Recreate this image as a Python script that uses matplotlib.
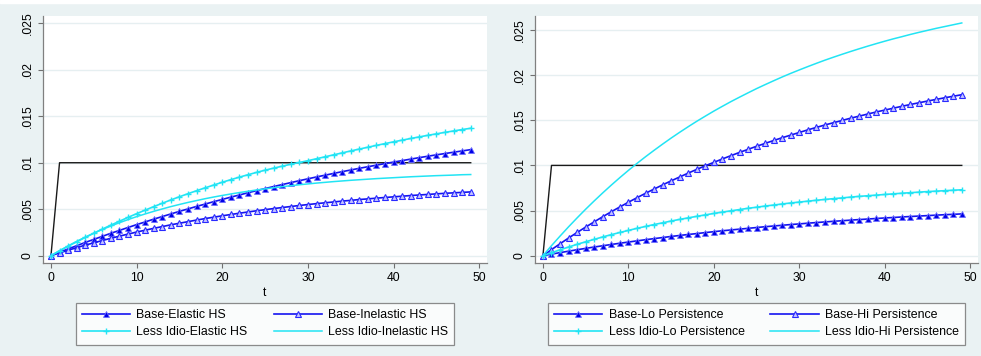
import matplotlib
matplotlib.use("Agg")
import matplotlib.pyplot as plt
from matplotlib.patches import Rectangle

plt.rcParams["font.family"] = ["Liberation Sans", "DejaVu Sans"]

# periods
t = list(range(50))

# policy step (black line, same in both panels)
policy = [0.0, 0.01, 0.01, 0.01, 0.01, 0.01, 0.01, 0.01, 0.01, 0.01,
          0.01, 0.01, 0.01, 0.01, 0.01, 0.01, 0.01, 0.01, 0.01, 0.01,
          0.01, 0.01, 0.01, 0.01, 0.01, 0.01, 0.01, 0.01, 0.01, 0.01,
          0.01, 0.01, 0.01, 0.01, 0.01, 0.01, 0.01, 0.01, 0.01, 0.01,
          0.01, 0.01, 0.01, 0.01, 0.01, 0.01, 0.01, 0.01, 0.01, 0.01]

# left panel: housing supply elasticity
base_elastic = [0.0, .00037, .00072, .00107, .00142, .00175, .00208, .00241, .00272, .00303,
                .00334, .00363, .00393, .00421, .00449, .00477, .00503, .00530, .00555, .00581,
                .00605, .00630, .00653, .00677, .00700, .00722, .00744, .00765, .00786, .00807,
                .00827, .00847, .00866, .00885, .00904, .00922, .00940, .00957, .00974, .00991,
                .01007, .01023, .01039, .01055, .01070, .01085, .01099, .01113, .01127, .01141]
base_inelastic = [0.0, .00030, .00058, .00086, .00113, .00138, .00163, .00187, .00210, .00232,
                  .00254, .00274, .00294, .00313, .00332, .00349, .00366, .00383, .00399, .00414,
                  .00429, .00443, .00457, .00470, .00483, .00495, .00507, .00518, .00529, .00540,
                  .00550, .00560, .00569, .00578, .00587, .00595, .00604, .00611, .00619, .00626,
                  .00633, .00640, .00647, .00653, .00659, .00665, .00671, .00676, .00681, .00686]
less_idio_elastic = [0.0, .00051, .00101, .00149, .00196, .00242, .00286, .00329, .00371, .00412,
                     .00452, .00490, .00528, .00564, .00600, .00634, .00667, .00699, .00730, .00760,
                     .00790, .00818, .00845, .00871, .00896, .00920, .00942, .00963, .00984, .01003,
                     .01022, .01043, .01064, .01085, .01106, .01127, .01147, .01167, .01187, .01206,
                     .01225, .01243, .01261, .01278, .01295, .01311, .01327, .01342, .01357, .01371]
less_idio_inelastic = [0.0, .00054, .00105, .00154, .00199, .00242, .00282, .00319, .00355, .00388,
                       .00420, .00449, .00477, .00503, .00528, .00551, .00573, .00593, .00613, .00631,
                       .00648, .00664, .00679, .00693, .00707, .00719, .00731, .00742, .00753, .00763,
                       .00772, .00781, .00789, .00797, .00804, .00811, .00817, .00823, .00829, .00834,
                       .00839, .00844, .00849, .00853, .00857, .00861, .00864, .00867, .00871, .00873]

# right panel: persistence
base_lo = [0.0, .00017, .00034, .00050, .00066, .00081, .00096, .00110, .00124, .00138,
           .00151, .00164, .00177, .00189, .00201, .00213, .00224, .00235, .00245, .00256,
           .00266, .00276, .00285, .00294, .00303, .00312, .00321, .00329, .00337, .00345,
           .00352, .00360, .00367, .00374, .00381, .00387, .00394, .00400, .00406, .00412,
           .00418, .00423, .00429, .00434, .00439, .00444, .00449, .00454, .00458, .00463]
base_hi = [0.0, .00067, .00132, .00196, .00257, .00317, .00375, .00432, .00487, .00540,
           .00592, .00642, .00691, .00738, .00784, .00829, .00872, .00915, .00956, .00996,
           .01034, .01072, .01108, .01144, .01178, .01212, .01244, .01276, .01307, .01336,
           .01365, .01394, .01421, .01448, .01473, .01498, .01523, .01546, .01569, .01592,
           .01613, .01634, .01655, .01675, .01694, .01713, .01731, .01749, .01766, .01783]
less_idio_lo = [0.0, .00033, .00065, .00096, .00126, .00154, .00181, .00208, .00233, .00257,
                .00280, .00303, .00324, .00345, .00364, .00384, .00402, .00419, .00436, .00452,
                .00468, .00483, .00497, .00511, .00525, .00537, .00550, .00561, .00573, .00584,
                .00594, .00604, .00614, .00623, .00632, .00640, .00649, .00657, .00664, .00671,
                .00678, .00685, .00692, .00698, .00704, .00710, .00715, .00720, .00725, .00730]
less_idio_hi = [0.0, .00111, .00217, .00320, .00419, .00515, .00607, .00696, .00782, .00865,
                .00945, .01022, .01096, .01167, .01236, .01303, .01367, .01429, .01489, .01546,
                .01602, .01655, .01707, .01756, .01804, .01851, .01895, .01938, .01980, .02020,
                .02058, .02095, .02131, .02166, .02199, .02231, .02262, .02292, .02321, .02349,
                .02376, .02402, .02426, .02451, .02474, .02496, .02518, .02538, .02558, .02578]

left_labels = ["Base-Elastic HS", "Base-Inelastic HS",
               "Less Idio-Elastic HS", "Less Idio-Inelastic HS"]
right_labels = ["Base-Lo Persistence", "Base-Hi Persistence",
                "Less Idio-Lo Persistence", "Less Idio-Hi Persistence"]

y_ticks = [0, .005, .01, .015, .02, .025]
y_ticklabels = ["0", ".005", ".01", ".015", ".02", ".025"]
x_ticks = [0, 10, 20, 30, 40, 50]

BG = "#eaf2f3"
BLUE = "#1414f0"
CYAN = "#22e4f4"
FS = 8.7


def draw_panel(ax, series, labels, ylim):
    ax.plot(t, policy, color="#1a1a1a", lw=1.0, zorder=2)
    h1, = ax.plot(t, series[0], color=BLUE, lw=1.2, marker="^", ms=4.8,
                  mfc="#0000e6", mec="#6f6fff", mew=0.6, zorder=3)
    h2, = ax.plot(t, series[1], color=BLUE, lw=1.2, marker="^", ms=4.8,
                  mfc="#c4c4ff", mec="#2a2aff", mew=0.8, zorder=3)
    h3, = ax.plot(t, series[2], color=CYAN, lw=1.2, marker="+", ms=5.0,
                  mew=1.0, zorder=4)
    h4, = ax.plot(t, series[3], color=CYAN, lw=1.1, zorder=4)

    ax.set_xlim(-0.93, 50.9)
    ax.set_ylim(*ylim)
    ax.set_xticks(x_ticks)
    ax.set_yticks(y_ticks)
    ax.set_yticklabels(y_ticklabels, rotation=90, va="center")
    ax.tick_params(labelsize=FS, length=3.6, width=0.8, color="#707070", pad=3)
    ax.grid(axis="y", color="#e6eff1", lw=1.0, zorder=0)
    ax.set_axisbelow(True)
    for s in ("top", "right"):
        ax.spines[s].set_visible(False)
    for s in ("left", "bottom"):
        ax.spines[s].set_color("#808080")
        ax.spines[s].set_linewidth(0.9)
    ax.set_xlabel("t", fontsize=FS, labelpad=2)

    # matplotlib fills legend columns first
    leg = ax.legend([h1, h3, h2, h4], [labels[0], labels[2], labels[1], labels[3]],
                    ncol=2, loc="upper center", bbox_to_anchor=(0.5, -0.162),
                    fontsize=8.9, frameon=True, fancybox=False, borderaxespad=0,
                    handlelength=3.9, handletextpad=0.5, columnspacing=2.1,
                    labelspacing=0.42, borderpad=0.5)
    leg.get_frame().set_edgecolor("#707070")
    leg.get_frame().set_linewidth(0.9)
    leg.get_frame().set_facecolor("white")


fig = plt.figure(figsize=(9.81, 3.56), dpi=100, facecolor=BG)
fig.patches.append(Rectangle((0, 1 - 3 / 356), 1, 3 / 356, transform=fig.transFigure,
                             color="white", zorder=-1))

ax1 = fig.add_axes([43 / 981, 93 / 356, 444 / 981, 247 / 356])
ax2 = fig.add_axes([535 / 981, 93 / 356, 443 / 981, 247 / 356])

draw_panel(ax1, [base_elastic, base_inelastic, less_idio_elastic, less_idio_inelastic],
           left_labels, (-0.00079, 0.02579))
draw_panel(ax2, [base_lo, base_hi, less_idio_lo, less_idio_hi],
           right_labels, (-0.00081, 0.02655))

fig.savefig("out.png", dpi=100, facecolor=fig.get_facecolor())
